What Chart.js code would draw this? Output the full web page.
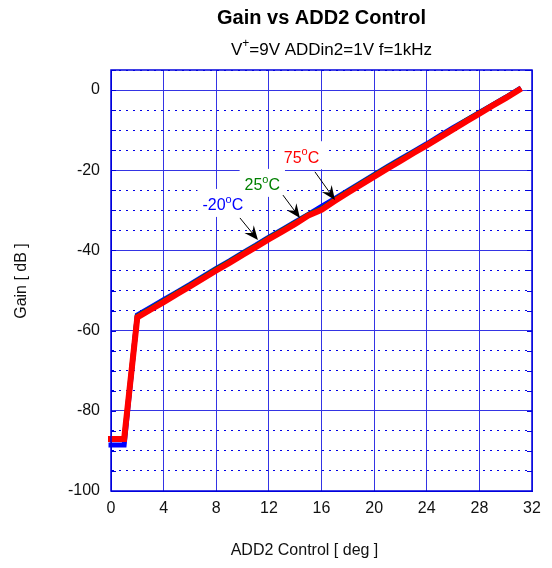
<!DOCTYPE html>
<html>
<head>
<meta charset="utf-8">
<title>Gain vs ADD2 Control</title>
<script src="https://cdn.jsdelivr.net/npm/chart.js@4.4.1/dist/chart.umd.min.js"></script>
<style>
    body { margin: 0; background: #fff; }
    #chart { display: block; }
</style>
</head>
<body>
<canvas id="chart" width="552" height="568"></canvas>
<script>
// ADD2 control setting (deg) and measured gain (dB) per temperature
const controlSteps = [0, 1, 2, 3, 4, 5, 6, 7, 8, 9, 10, 11, 12, 13, 14, 15,
    16, 17, 18, 19, 20, 21, 22, 23, 24, 25, 26, 27, 28, 29, 30, 31];
const gainMinus20C = [-88.5, -88.5, -56.1, -54.2, -52.3, -50.4, -48.5, -46.5, -44.5, -42.6, -40.6, -38.7, -36.7, -34.8, -32.9, -31.0,
    -29.0, -27.1, -25.1, -23.1, -21.1, -19.1, -17.2, -15.3, -13.4, -11.4, -9.4, -7.5, -5.6, -3.7, -1.8, 0.2];
const gain25C = [-87.1, -87.1, -56.4, -54.5, -52.6, -50.6, -48.7, -46.7, -44.7, -42.8, -40.8, -38.9, -36.9, -35.0, -33.1, -31.1,
    -29.6, -27.4, -25.3, -23.3, -21.3, -19.3, -17.4, -15.5, -13.6, -11.6, -9.6, -7.6, -5.7, -3.8, -1.9, 0.1];
const gain75C = [-87.0, -87.0, -56.7, -54.8, -52.9, -50.9, -49.0, -47.0, -45.0, -43.1, -41.1, -39.2, -37.2, -35.3, -33.4, -31.3,
    -29.9, -27.7, -25.6, -23.6, -21.6, -19.6, -17.7, -15.7, -13.8, -11.8, -9.8, -7.8, -5.9, -3.9, -2.0, 0.0];

const xTickStep = 4;
const yTickStep = 5;
const yLabelStep = 20;

// temperature callouts: text anchor, arrow tail and arrow tip in data units
const callouts = [
    { value: '-20', color: '#0000ff', at: [8.5, -28.9], tail: [9.8, -31.9], tip: [11.17, -37.4] },
    { value: '25', color: '#008000', at: [11.5, -23.9], tail: [13.07, -26.2], tip: [14.36, -31.9] },
    { value: '75', color: '#ff0000', at: [14.48, -17.0], tail: [15.5, -20.4], tip: [17.02, -27.4] },
];

const FONT = "'Liberation Sans', Arial, sans-serif";
const GRID_BLUE = '#3434e4';

function toPoints(ys) {
    return controlSteps.map((x, i) => ({ x: x, y: ys[i] }));
}

// draws text where some pieces are raised superscripts, centred on x
function drawRichText(ctx, parts, cx, cy, size, weight) {
    const supSize = Math.round(size * 0.68);
    let total = 0;
    for (const p of parts) {
        ctx.font = `${weight || ''} ${p.sup ? supSize : size}px ${FONT}`;
        p.w = ctx.measureText(p.t).width;
        total += p.w;
    }
    let x = cx - total / 2;
    ctx.textAlign = 'left';
    ctx.textBaseline = 'middle';
    for (const p of parts) {
        ctx.font = `${weight || ''} ${p.sup ? supSize : size}px ${FONT}`;
        ctx.fillText(p.t, x, p.sup ? cy - size * 0.38 : cy);
        x += p.w;
    }
    return total;
}

function drawArrow(ctx, x0, y0, x1, y1) {
    const ang = Math.atan2(y1 - y0, x1 - x0);
    const len = 14, half = 6, back = 9;
    ctx.strokeStyle = '#000';
    ctx.fillStyle = '#000';
    ctx.lineWidth = 1;
    ctx.beginPath();
    ctx.moveTo(x0, y0);
    ctx.lineTo(x1 - Math.cos(ang) * back, y1 - Math.sin(ang) * back);
    ctx.stroke();
    const bx = x1 - Math.cos(ang) * len, by = y1 - Math.sin(ang) * len;
    const nx = -Math.sin(ang), ny = Math.cos(ang);
    ctx.beginPath();
    ctx.moveTo(x1, y1);
    ctx.lineTo(bx + nx * half, by + ny * half);
    ctx.lineTo(x1 - Math.cos(ang) * back, y1 - Math.sin(ang) * back);
    ctx.lineTo(bx - nx * half, by - ny * half);
    ctx.closePath();
    ctx.fill();
}

const calloutPlugin = {
    id: 'callouts',
    beforeDatasetsDraw(chart) {
        // white boxes behind the labels hide the grid
        const { ctx, scales: { x, y } } = chart;
        ctx.save();
        ctx.font = `16px ${FONT}`;
        for (const c of callouts) {
            const px = x.getPixelForValue(c.at[0]);
            const py = y.getPixelForValue(c.at[1]);
            const w = ctx.measureText(c.value + 'C').width + 10 + 6;
            ctx.fillStyle = '#fff';
            ctx.fillRect(px - w / 2, py - 17, w, 28);
        }
        ctx.restore();
    },
    afterDatasetsDraw(chart) {
        const { ctx, scales: { x, y } } = chart;
        ctx.save();
        for (const c of callouts) {
            ctx.fillStyle = c.color;
            drawRichText(ctx, [{ t: c.value }, { t: 'o', sup: true }, { t: 'C' }],
                x.getPixelForValue(c.at[0]), y.getPixelForValue(c.at[1]), 16);
            drawArrow(ctx,
                x.getPixelForValue(c.tail[0]), y.getPixelForValue(c.tail[1]),
                x.getPixelForValue(c.tip[0]), y.getPixelForValue(c.tip[1]));
        }
        ctx.restore();
    },
};

const framePlugin = {
    id: 'frame',
    afterDraw(chart) {
        const { ctx, chartArea: a, scales: { y } } = chart;
        ctx.save();
        ctx.strokeStyle = '#0000dd';
        ctx.lineWidth = 1.5;
        ctx.strokeRect(a.left, a.top, a.right - a.left, a.bottom - a.top);

        // short inward ticks on both sides
        ctx.lineWidth = 1;
        for (const t of y.ticks) {
            const py = Math.round(y.getPixelForValue(t.value)) + 0.5;
            ctx.beginPath();
            ctx.moveTo(a.left, py); ctx.lineTo(a.left + 5, py);
            ctx.moveTo(a.right, py); ctx.lineTo(a.right - 5, py);
            ctx.stroke();
        }

        // titles
        ctx.fillStyle = '#000';
        const mid = (a.left + a.right) / 2;
        drawRichText(ctx, [{ t: 'Gain vs ADD2 Control' }], mid, 18, 20, 'bold');
        drawRichText(ctx, [{ t: 'V' }, { t: '+', sup: true }, { t: '=9V ADDin2=1V f=1kHz' }], mid + 10, 50, 17);
        ctx.fillStyle = '#111';
        drawRichText(ctx, [{ t: 'ADD2 Control [ deg ]' }], mid - 17, 551, 16);
        ctx.translate(22, 281);
        ctx.rotate(-Math.PI / 2);
        drawRichText(ctx, [{ t: 'Gain [ dB ]' }], 0, 0, 16);
        ctx.restore();
    },
};

function lineSet(label, ys, color, width) {
    return {
        label: label,
        data: toPoints(ys),
        borderColor: color,
        backgroundColor: color,
        borderWidth: width,
        pointRadius: 0,
        tension: 0,
        borderCapStyle: 'square',
        borderJoinStyle: 'miter',
        clip: false,
    };
}

new Chart(document.getElementById('chart'), {
    type: 'line',
    data: {
        // first dataset ends up drawn on top
        datasets: [
            lineSet('75°C', gain75C, '#ff0000', 6),
            lineSet('25°C', gain25C, '#008000', 5),
            lineSet('-20°C', gainMinus20C, '#0000ff', 5),
        ],
    },
    options: {
        responsive: false,
        animation: false,
        devicePixelRatio: 1,
        layout: { padding: { top: 70, right: 20, left: 0, bottom: 0 } },
        plugins: { legend: { display: false }, tooltip: { enabled: false } },
        scales: {
            x: {
                type: 'linear',
                min: 0,
                max: 32,
                afterFit: (s) => { s.height = 77; },
                ticks: { stepSize: xTickStep, autoSkip: false, padding: 8, color: '#111', font: { family: FONT, size: 16 } },
                grid: { color: GRID_BLUE, lineWidth: 1, drawTicks: false },
                border: { display: true, color: '#0000dd' },
            },
            y: {
                type: 'linear',
                min: -100,
                max: 5,
                afterFit: (s) => { s.width = 111; },
                ticks: {
                    stepSize: yTickStep,
                    autoSkip: false,
                    padding: 11,
                    color: '#111',
                    font: { family: FONT, size: 16 },
                    callback: (v) => (v % yLabelStep === 0 ? v : ''),
                },
                grid: {
                    drawTicks: false,
                    lineWidth: 1,
                    color: (c) => (c.tick && c.tick.value % yLabelStep === 0 ? GRID_BLUE : '#0000e6'),
                },
                border: {
                    display: true,
                    color: '#0000dd',
                    dash: (c) => (c.tick && c.tick.value % yLabelStep !== 0 ? [2, 5] : []),
                },
            },
        },
    },
    plugins: [calloutPlugin, framePlugin],
});
</script>
</body>
</html>
